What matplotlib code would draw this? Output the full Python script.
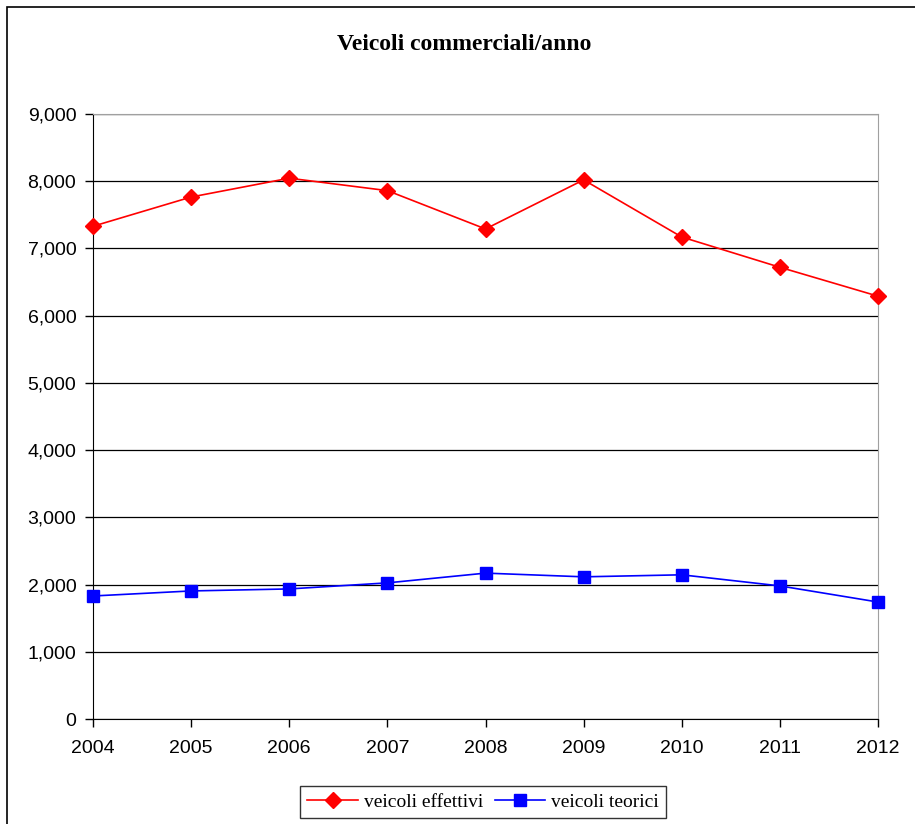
import matplotlib
matplotlib.use("Agg")
import matplotlib.pyplot as plt
from matplotlib.patches import Rectangle
from matplotlib.ticker import FuncFormatter

years = [2004, 2005, 2006, 2007, 2008, 2009, 2010, 2011, 2012]
effettivi = [7330, 7765, 8045, 7860, 7290, 8020, 7170, 6720, 6290]
teorici = [1830, 1905, 1935, 2025, 2170, 2115, 2145, 1980, 1740]

fig = plt.figure(figsize=(9.15, 8.24), dpi=100)
ax = fig.add_axes([93 / 915, 1 - 719 / 824, (878 - 93) / 915, (719 - 114) / 824])

# outer chart frame
fig.patches.append(Rectangle((7 / 915, -0.05), 1.0, 1 - 7 / 824 + 0.05,
                             transform=fig.transFigure, fill=False,
                             edgecolor="black", lw=1.2))

ax.plot(years, effettivi, color="#ff0000", lw=1.2, marker="D", ms=8,
        label="veicoli effettivi", clip_on=False, zorder=3)
ax.plot(years, teorici, color="#0000ff", lw=1.2, marker="s", ms=9,
        label="veicoli teorici", clip_on=False, zorder=3)

ax.set_xlim(2004, 2012)
ax.set_ylim(0, 9000)
ax.set_xticks(years)
ax.set_yticks(range(0, 9001, 1000))
ax.yaxis.set_major_formatter(FuncFormatter(lambda v, p: f"{int(v):,}"))
ax.grid(axis="y", color="black", lw=0.9)
ax.set_axisbelow(True)

for s in ("top", "right"):
    ax.spines[s].set_color("#a0a0a0")
for s in ("left", "bottom"):
    ax.spines[s].set_color("black")
ax.tick_params(direction="out", length=6, color="black", width=1,
               labelsize=14, pad=6)
ax.tick_params(axis="x", pad=9)
for lab in ax.get_xticklabels() + ax.get_yticklabels():
    lab.set_family("Liberation Sans")

fig.text(464 / 915, 1 - 45 / 824, "Veicoli commerciali/anno",
         ha="center", va="center", family="Liberation Serif",
         fontweight="bold", fontsize=17)

leg = fig.legend(loc="center", bbox_to_anchor=(483 / 915, 1 - 802 / 824),
                 ncol=2, frameon=True, fancybox=False, edgecolor="black",
                 prop={"family": "Liberation Serif", "size": 14},
                 handlelength=2.6, columnspacing=0.6, handletextpad=0.3,
                 borderpad=0.35)
leg.get_frame().set_linewidth(1.0)

fig.savefig("out.png", dpi=100, facecolor="white")
